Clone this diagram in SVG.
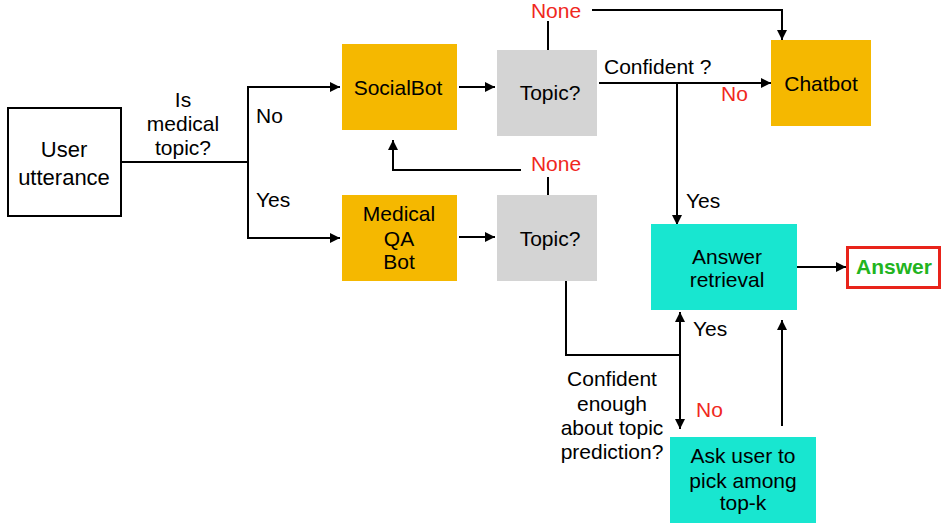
<svg xmlns="http://www.w3.org/2000/svg" width="942" height="524" viewBox="0 0 942 524">
<defs>
<marker id="ah" viewBox="0 0 10 10" refX="10" refY="5" markerWidth="10" markerHeight="10" markerUnits="userSpaceOnUse" orient="auto">
<path d="M0,0 L10,5 L0,10 Z" fill="#000"/>
</marker>
</defs>
<style>
text{font-family:"Liberation Sans",Arial,sans-serif;font-size:21px;fill:#000}
.c{text-anchor:middle}
.r{fill:#F0281E}
.ln{fill:none;stroke:#000;stroke-width:2}
.a{marker-end:url(#ah)}
.bot{fill:#F5B800}
.gray{fill:#D4D4D4}
.cy{fill:#18E6D0}
</style>
<rect width="942" height="524" fill="#fff"/>
<g id="connectors">
<polyline class="ln" points="120,162 248,162"/>
<polyline class="ln a" points="248,162 248,87 340,87"/>
<polyline class="ln a" points="248,162 248,238 340,238"/>
<polyline class="ln a" points="459,87 495,87"/>
<polyline class="ln a" points="459,237 495,237"/>
<polyline class="ln" points="548,50 548,21"/>
<polyline class="ln a" points="592,10 782,10 782,40"/>
<polyline class="ln a" points="599,83 771,83"/>
<polyline class="ln a" points="677,83 677,225"/>
<polyline class="ln" points="548,195 548,177"/>
<polyline class="ln a" points="521,170 393,170 393,140"/>
<polyline class="ln" points="566,281 566,355 680,355"/>
<polyline class="ln a" points="680,355 680,312"/>
<polyline class="ln a" points="680,355 680,429"/>
<polyline class="ln a" points="782,426 782,320"/>
<polyline class="ln a" points="797,267 846,267"/>
<text class="c" x="183" y="107">Is</text>
<text class="c" x="183" y="131">medical</text>
<text class="c" x="183" y="155">topic?</text>
<text x="256" y="123">No</text>
<text x="256" y="207">Yes</text>
<text class="c r" x="556" y="18">None</text>
<text class="c r" x="556" y="171">None</text>
<text x="604" y="74">Confident ?</text>
<text class="r" x="721" y="101">No</text>
<text x="686" y="208">Yes</text>
<text x="693" y="336">Yes</text>
<text class="r" x="696" y="417">No</text>
<text class="c" x="612" y="386">Confident</text>
<text class="c" x="612" y="411">enough</text>
<text class="c" x="612" y="435">about topic</text>
<text class="c" x="612" y="459">prediction?</text>
</g>
<g id="user">
<rect x="8" y="108" width="113" height="108" fill="#fff" stroke="#000" stroke-width="2"/>
<text class="c" x="64" y="157" style="font-size:22px">User</text>
<text class="c" x="64" y="185" style="font-size:22px">utterance</text>
</g>
<g id="socialbot">
<rect class="bot" x="342" y="44" width="115" height="86"/>
<text class="c" x="398" y="95">SocialBot</text>
</g>
<g id="topic1">
<rect class="gray" x="497" y="50" width="100" height="86"/>
<text class="c" x="550" y="100">Topic?</text>
</g>
<g id="medicalqa">
<rect class="bot" x="342" y="195" width="115" height="86"/>
<text class="c" x="399" y="221">Medical</text>
<text class="c" x="399" y="246">QA</text>
<text class="c" x="399" y="269">Bot</text>
</g>
<g id="topic2">
<rect class="gray" x="497" y="195" width="100" height="86"/>
<text class="c" x="550" y="246">Topic?</text>
</g>
<g id="chatbot">
<rect class="bot" x="771" y="40" width="100" height="86"/>
<text class="c" x="821" y="91">Chatbot</text>
</g>
<g id="retrieval">
<rect class="cy" x="651" y="224" width="146" height="86"/>
<text class="c" x="727" y="264">Answer</text>
<text class="c" x="727" y="287">retrieval</text>
</g>
<g id="answer">
<rect x="847.5" y="247.5" width="92" height="40" fill="#fff" stroke="#E8231A" stroke-width="3"/>
<text class="c" x="894" y="274" style="font-weight:bold;fill:#22B41E">Answer</text>
</g>
<g id="askuser">
<rect class="cy" x="670" y="437" width="146" height="86"/>
<text class="c" x="743" y="463">Ask user to</text>
<text class="c" x="743" y="488">pick among</text>
<text class="c" x="743" y="510">top-k</text>
</g>
</svg>
